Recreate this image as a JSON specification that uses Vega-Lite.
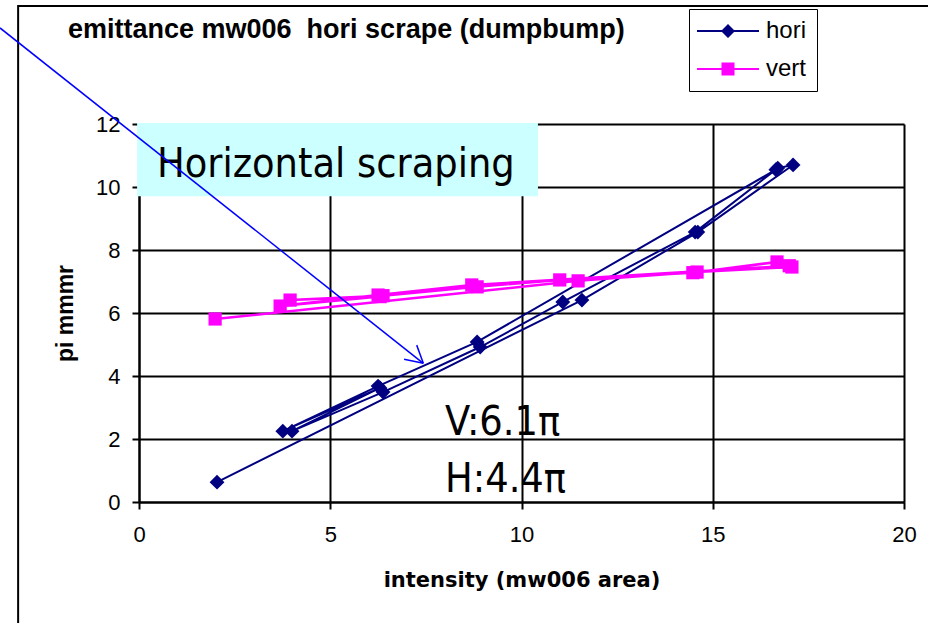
{
  "$schema": "https://vega.github.io/schema/vega-lite/v6.json",
  "width": 765,
  "height": 378,
  "autosize": {"type": "none"},
  "padding": {"left": 139, "top": 124, "right": 24, "bottom": 121},
  "background": "white",
  "title": {
    "text": "emittance mw006\u00a0 hori scrape (dumpbump)",
    "anchor": "start",
    "frame": "group",
    "dx": -71,
    "dy": 43,
    "font": "Liberation Sans",
    "fontSize": 27,
    "fontWeight": "bold",
    "color": "black"
  },
  "datasets": {
    "series": [
      {"series": "hori", "seq": 1, "x": 2.04, "y": 0.63},
      {"series": "hori", "seq": 2, "x": 11.58, "y": 6.41},
      {"series": "hori", "seq": 3, "x": 14.61, "y": 8.57},
      {"series": "hori", "seq": 4, "x": 17.1, "y": 10.7},
      {"series": "hori", "seq": 5, "x": 16.7, "y": 10.6},
      {"series": "hori", "seq": 6, "x": 14.54, "y": 8.57},
      {"series": "hori", "seq": 7, "x": 11.08, "y": 6.35},
      {"series": "hori", "seq": 8, "x": 8.92, "y": 4.92},
      {"series": "hori", "seq": 9, "x": 6.38, "y": 3.49},
      {"series": "hori", "seq": 10, "x": 4.0, "y": 2.25},
      {"series": "hori", "seq": 11, "x": 6.3, "y": 3.62},
      {"series": "hori", "seq": 12, "x": 3.76, "y": 2.25},
      {"series": "hori", "seq": 13, "x": 6.25, "y": 3.68},
      {"series": "hori", "seq": 14, "x": 8.84, "y": 5.08},
      {"series": "hori", "seq": 15, "x": 16.65, "y": 10.55},
      {"series": "vert", "seq": 1, "x": 1.99, "y": 5.81},
      {"series": "vert", "seq": 2, "x": 11.48, "y": 7.02},
      {"series": "vert", "seq": 3, "x": 14.59, "y": 7.3},
      {"series": "vert", "seq": 4, "x": 17.07, "y": 7.46},
      {"series": "vert", "seq": 5, "x": 16.68, "y": 7.62},
      {"series": "vert", "seq": 6, "x": 14.48, "y": 7.28},
      {"series": "vert", "seq": 7, "x": 11.0, "y": 7.05},
      {"series": "vert", "seq": 8, "x": 8.84, "y": 6.83},
      {"series": "vert", "seq": 9, "x": 6.38, "y": 6.55},
      {"series": "vert", "seq": 10, "x": 3.95, "y": 6.41},
      {"series": "vert", "seq": 11, "x": 6.3, "y": 6.52},
      {"series": "vert", "seq": 12, "x": 3.69, "y": 6.22},
      {"series": "vert", "seq": 13, "x": 6.25, "y": 6.57},
      {"series": "vert", "seq": 14, "x": 8.7, "y": 6.89},
      {"series": "vert", "seq": 15, "x": 17.0, "y": 7.5}
    ],
    "frame": [{"xa": -3.16, "xb": 25, "ya": 15.75, "yb": -6}],
    "box": [{"xa": -0.05, "xb": 10.43, "ya": 9.71, "yb": 12.03}],
    "notes": [
      {"label": "Horizontal scraping", "x": 0.47, "y": 10.32},
      {"label": "V:6.1π", "x": 8.0, "y": 2.13},
      {"label": "H:4.4π", "x": 8.0, "y": 0.32}
    ],
    "arrow": [
      {"xa": -3.634, "ya": 15.05, "xb": 7.433, "yb": 4.403},
      {"xa": 7.26, "ya": 4.98, "xb": 7.433, "yb": 4.403},
      {"xa": 6.93, "ya": 4.53, "xb": 7.433, "yb": 4.403}
    ]
  },
  "encoding": {
    "x": {
      "field": "x", "type": "quantitative",
      "scale": {"domain": [0, 20], "nice": false, "zero": false},
      "axis": {
        "values": [0, 5, 10, 15, 20],
        "title": "intensity (mw006 area)",
        "titleFont": "DejaVu Sans",
        "titleFontSize": 21,
        "labelPadding": 15,
        "titlePadding": 24
      }
    },
    "y": {
      "field": "y", "type": "quantitative",
      "scale": {"domain": [0, 12], "nice": false, "zero": false},
      "axis": {
        "values": [0, 2, 4, 6, 8, 10, 12],
        "title": "pi mmmr",
        "titleFontSize": 23,
        "labelPadding": 12,
        "titlePadding": 18
      }
    }
  },
  "layer": [
    {
      "data": {"name": "frame"},
      "mark": {"type": "rect", "filled": false, "color": "black", "strokeWidth": 2, "clip": false},
      "encoding": {
        "x": {"field": "xa", "type": "quantitative"},
        "x2": {"field": "xb"},
        "y": {"field": "ya", "type": "quantitative"},
        "y2": {"field": "yb"}
      }
    },
    {
      "data": {"name": "box"},
      "mark": {"type": "rect", "fill": "#CCFFFF"},
      "encoding": {
        "x": {"field": "xa", "type": "quantitative"},
        "x2": {"field": "xb"},
        "y": {"field": "ya", "type": "quantitative"},
        "y2": {"field": "yb"}
      }
    },
    {
      "data": {"name": "series"},
      "transform": [{"filter": "datum.series === 'hori'"}],
      "mark": {"type": "line", "color": "#000080", "strokeWidth": 2},
      "encoding": {"order": {"field": "seq", "type": "quantitative"}}
    },
    {
      "data": {"name": "series"},
      "transform": [{"filter": "datum.series === 'hori'"}],
      "mark": {"type": "point", "shape": "diamond", "filled": true, "color": "#000080", "size": 220, "opacity": 1}
    },
    {
      "data": {"name": "series"},
      "transform": [{"filter": "datum.series === 'vert'"}],
      "mark": {"type": "line", "color": "#FF00FF", "strokeWidth": 2.5},
      "encoding": {"order": {"field": "seq", "type": "quantitative"}}
    },
    {
      "data": {"name": "series"},
      "transform": [{"filter": "datum.series === 'vert'"}],
      "mark": {"type": "point", "shape": "square", "filled": true, "color": "#FF00FF", "size": 175, "opacity": 1}
    },
    {
      "data": {"name": "notes"},
      "mark": {"type": "text", "align": "left", "baseline": "alphabetic", "font": "DejaVu Sans Condensed, Liberation Sans", "fontSize": 41, "color": "black"},
      "encoding": {"text": {"field": "label"}}
    },
    {
      "data": {"name": "arrow"},
      "mark": {"type": "rule", "color": "#0000FF", "strokeWidth": 1.5},
      "encoding": {
        "x": {"field": "xa", "type": "quantitative"},
        "x2": {"field": "xb"},
        "y": {"field": "ya", "type": "quantitative"},
        "y2": {"field": "yb"}
      }
    },
    {
      "data": {"name": "series"},
      "transform": [{"filter": "datum.seq < 0"}],
      "mark": {"type": "point", "filled": true, "opacity": 1},
      "encoding": {
        "color": {
          "field": "series", "type": "nominal",
          "scale": {"domain": ["hori", "vert"], "range": ["#000080", "#FF00FF"]},
          "legend": {
            "title": null,
            "orient": "none",
            "legendX": 550,
            "legendY": -115,
            "padding": 10,
            "strokeColor": "black",
            "fillColor": "white",
            "symbolSize": 196,
            "symbolStrokeWidth": 0,
            "symbolOpacity": 1,
            "symbolOffset": 17,
            "labelOffset": 26,
            "rowPadding": 14,
            "labelFont": "Liberation Sans",
            "labelFontSize": 24,
            "labelColor": "black",
            "labelBaseline": "middle"
          }
        },
        "shape": {
          "field": "series", "type": "nominal",
          "scale": {
            "domain": ["hori", "vert"],
            "range": [
              "M-4.43,-0.14H4.43V0.14H-4.43ZM0,-1L1,0L0,1L-1,0Z",
              "M-4.43,-0.14H4.43V0.14H-4.43ZM-0.93,-0.93H0.93V0.93H-0.93Z"
            ]
          }
        }
      }
    }
  ],
  "config": {
    "font": "Liberation Sans",
    "view": {"stroke": null},
    "axis": {
      "domainColor": "black",
      "domainWidth": 2,
      "grid": true,
      "gridColor": "black",
      "gridWidth": 2,
      "gridOpacity": 1,
      "tickColor": "black",
      "tickWidth": 2,
      "tickSize": 7,
      "labelFlush": false,
      "labelColor": "black",
      "labelFont": "Liberation Sans",
      "labelFontSize": 22,
      "titleColor": "black",
      "titleFont": "Liberation Sans",
      "titleFontWeight": "bold"
    }
  }
}
